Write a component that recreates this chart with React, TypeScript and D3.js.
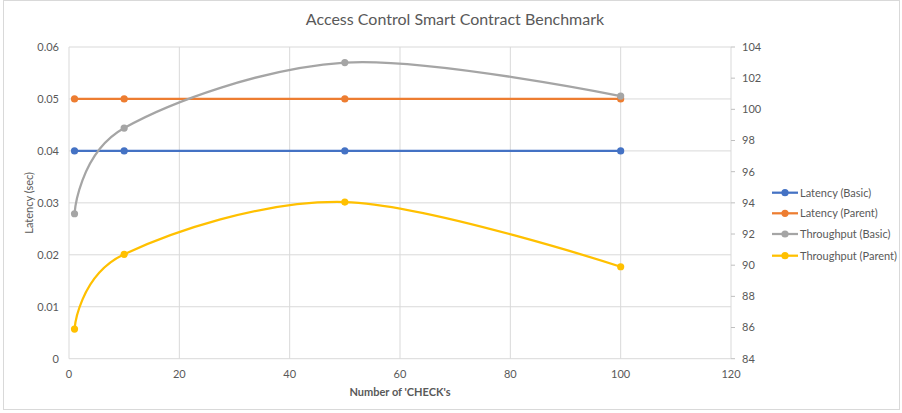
import React, { useEffect } from 'react';
import * as d3 from 'd3';

// number of CHECKs on the x axis
const checks = [1, 10, 50, 100];
const latencyBasic = [0.04, 0.04, 0.04, 0.04];
const latencyParent = [0.05, 0.05, 0.05, 0.05];
const throughputBasic = [93.3, 98.8, 103.0, 100.85];
const throughputParent = [85.9, 90.7, 94.05, 89.9];

const xTicks = [0, 20, 40, 60, 80, 100, 120];
const leftTicks = [0, 0.01, 0.02, 0.03, 0.04, 0.05, 0.06];
const rightTicks = [84, 86, 88, 90, 92, 94, 96, 98, 100, 102, 104];

const seriesNames = ['Latency (Basic)', 'Latency (Parent)', 'Throughput (Basic)', 'Throughput (Parent)'];
const colors = ['#4472C4', '#ED7D31', '#A5A5A5', '#FFC000'];

const W = 902;
const H = 413;
const margin = { top: 47, right: 171, bottom: 54.3, left: 69 };
const FONT = 'Lato, "Open Sans", sans-serif';
const TEXT = '#595959';

const App: React.FC = () => {
  useEffect(() => {
    document.body.style.margin = '0';
  }, []);

  const x = d3.scaleLinear().domain([0, 120]).range([margin.left, W - margin.right]);
  const yL = d3.scaleLinear().domain([0, 0.06]).range([H - margin.bottom, margin.top]);
  const yR = d3.scaleLinear().domain([84, 104]).range([H - margin.bottom, margin.top]);

  const series = [
    { vals: latencyBasic, y: yL },
    { vals: latencyParent, y: yL },
    { vals: throughputBasic, y: yR },
    { vals: throughputParent, y: yR },
  ];

  const line = (vals: number[], y: d3.ScaleLinear<number, number>) =>
    d3.line<number>()
      .x((_, i) => x(checks[i]))
      .y(d => y(d))
      .curve(d3.curveCardinal.tension(0))(vals) ?? '';

  const plotBottom = H - margin.bottom;
  const plotRight = W - margin.right;

  return (
    <svg width={W} height={H} style={{ display: 'block', background: '#fff' }} fontFamily={FONT}>
      <rect x={3.5} y={0.5} width={W - 6} height={H - 4} fill="#fff" stroke="#d9d9d9" />
      <text x={455} y={25} textAnchor="middle" fontSize={16} fill={TEXT}>
        Access Control Smart Contract Benchmark
      </text>

      {/* grid */}
      {leftTicks.map(t => (
        <line key={'h' + t} x1={margin.left} x2={plotRight} y1={yL(t)} y2={yL(t)} stroke="#d9d9d9" strokeWidth={1} />
      ))}
      {xTicks.map(t => (
        <line key={'v' + t} x1={x(t)} x2={x(t)} y1={margin.top} y2={plotBottom} stroke="#d9d9d9" strokeWidth={1} />
      ))}
      {/* right axis ticks */}
      {rightTicks.map(t => (
        <line key={'rt' + t} x1={plotRight} x2={plotRight + 4} y1={yR(t)} y2={yR(t)} stroke="#bfbfbf" />
      ))}

      {/* tick labels */}
      {leftTicks.map(t => (
        <text key={'lt' + t} x={margin.left - 10} y={yL(t)} dy="0.35em" textAnchor="end" fontSize={11} fill={TEXT}>
          {t === 0 ? '0' : d3.format('.2f')(t)}
        </text>
      ))}
      {rightTicks.map(t => (
        <text key={'rl' + t} x={plotRight + 11} y={yR(t)} dy="0.35em" fontSize={11} fill={TEXT}>
          {t}
        </text>
      ))}
      {xTicks.map(t => (
        <text key={'xl' + t} x={x(t)} y={plotBottom + 19} textAnchor="middle" fontSize={11} fill={TEXT}>
          {t}
        </text>
      ))}

      {/* axis titles */}
      <text transform={`translate(33,${(margin.top + plotBottom) / 2}) rotate(-90)`} textAnchor="middle" fontSize={11} fill={TEXT}>
        Latency (sec)
      </text>
      <text x={(margin.left + plotRight) / 2} y={396} textAnchor="middle" fontSize={11} fontWeight="bold" fill={TEXT}>
        Number of 'CHECK's
      </text>

      {/* series */}
      {series.map((s, i) => (
        <g key={seriesNames[i]}>
          <path d={line(s.vals, s.y)} fill="none" stroke={colors[i]} strokeWidth={2.25} />
          {s.vals.map((v, j) => (
            <circle key={j} cx={x(checks[j])} cy={s.y(v)} r={3.6} fill={colors[i]} />
          ))}
        </g>
      ))}

      {/* legend */}
      {seriesNames.map((name, i) => {
        const ly = [192.7, 213.3, 234, 255.7][i];
        return (
          <g key={'lg' + name}>
            <line x1={772} x2={798} y1={ly} y2={ly} stroke={colors[i]} strokeWidth={2.25} />
            <circle cx={785} cy={ly} r={3.6} fill={colors[i]} />
            <text x={800} y={ly} dy="0.35em" fontSize={11} fill={TEXT}>{name}</text>
          </g>
        );
      })}
    </svg>
  );
};

export default App;
